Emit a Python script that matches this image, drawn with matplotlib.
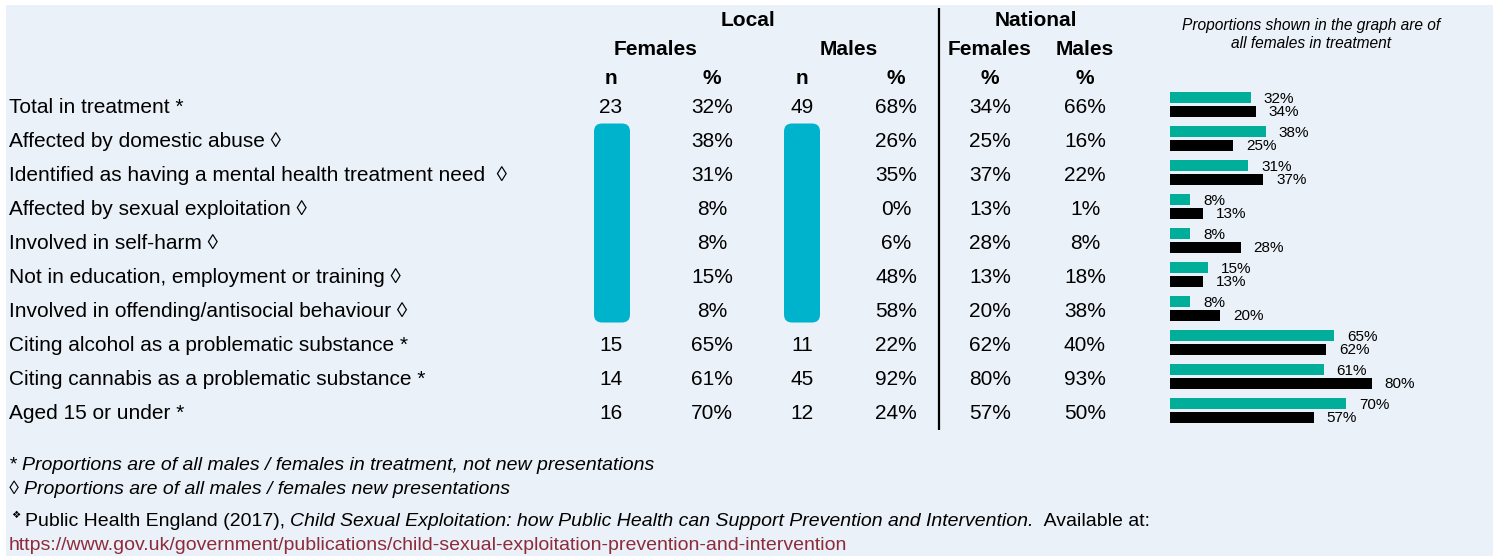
import matplotlib
matplotlib.use("Agg")
import matplotlib.pyplot as plt
from matplotlib.patches import Rectangle, FancyBboxPatch
import numpy as np

# ---------------- data ----------------
row_labels = [
    "Total in treatment *",
    "Affected by domestic abuse \u25ca",
    "Identified as having a mental health treatment need  \u25ca",
    "Affected by sexual exploitation \u25ca",
    "Involved in self-harm \u25ca",
    "Not in education, employment or training \u25ca",
    "Involved in offending/antisocial behaviour \u25ca",
    "Citing alcohol as a problematic substance *",
    "Citing cannabis as a problematic substance *",
    "Aged 15 or under *",
]
local_f_n = [23, None, None, None, None, None, None, 15, 14, 16]
local_f_pct = [32, 38, 31, 8, 8, 15, 8, 65, 61, 70]
local_m_n = [49, None, None, None, None, None, None, 11, 45, 12]
local_m_pct = [68, 26, 35, 0, 6, 48, 58, 22, 92, 24]
nat_f_pct = [34, 25, 37, 13, 28, 13, 20, 62, 80, 57]
nat_m_pct = [66, 16, 22, 1, 8, 18, 38, 40, 93, 50]
redacted_rows = [1, 2, 3, 4, 5, 6]

chart_title = "Proportions shown in the graph are of\nall females in treatment"
footnotes = [
    "* Proportions are of all males / females in treatment, not new presentations",
    "\u25ca Proportions are of all males / females new presentations",
]
ref_prefix = "Public Health England (2017), "
ref_title = "Child Sexual Exploitation: how Public Health can Support Prevention and Intervention."
ref_suffix = "  Available at:"
ref_url = "https://www.gov.uk/government/publications/child-sexual-exploitation-prevention-and-intervention"

# ---------------- style ----------------
W, H = 1497, 558
BG = "#EAF1F8"
TEAL = "#00AE9A"
SCRIBBLE = "#00B3CD"
URL_COLOR = "#8E2B3A"
FONT = ["Liberation Sans", "DejaVu Sans"]
plt.rcParams["font.family"] = FONT

fig = plt.figure(figsize=(W / 100, H / 100), dpi=100)
fig.patch.set_facecolor("white")
ax = fig.add_axes([0, 0, 1, 1])
ax.set_xlim(0, W)
ax.set_ylim(H, 0)
ax.axis("off")
ax.add_patch(Rectangle((6, 5), 1487, 551, facecolor=BG, edgecolor="none", zorder=0))

# layout
row0, dy = 107.5, 34.0
row_y = [row0 + dy * i for i in range(len(row_labels))]
x_label = 9
col_f_n, col_f_p, col_m_n, col_m_p = 611, 712, 802, 896
col_nf, col_nm = 990, 1085
FS = 15

# headers
bold = dict(fontsize=FS, fontweight="bold", ha="center", va="center", color="black")
ax.text(748, 20.5, "Local", **bold)
ax.text(1036, 20.5, "National", **bold)
ax.text(656, 49.5, "Females", **bold)
ax.text(849, 49.5, "Males", **bold)
ax.text(col_nf, 49.5, "Females", **bold)
ax.text(col_nm, 49.5, "Males", **bold)
for x, t in [(col_f_n, "n"), (col_f_p, "%"), (col_m_n, "n"), (col_m_p, "%"), (col_nf, "%"), (col_nm, "%")]:
    ax.text(x, 78.5, t, **bold)

ax.plot([939, 939], [8, 430], color="black", lw=1.6, solid_capstyle="butt")

norm = dict(fontsize=FS, ha="center", va="center", color="black")
for i, y in enumerate(row_y):
    ax.text(x_label, y, row_labels[i], fontsize=FS, ha="left", va="center")
    if local_f_n[i] is not None:
        ax.text(col_f_n, y, str(local_f_n[i]), **norm)
    if local_m_n[i] is not None:
        ax.text(col_m_n, y, str(local_m_n[i]), **norm)
    ax.text(col_f_p, y, f"{local_f_pct[i]}%", **norm)
    ax.text(col_m_p, y, f"{local_m_pct[i]}%", **norm)
    ax.text(col_nf, y, f"{nat_f_pct[i]}%", **norm)
    ax.text(col_nm, y, f"{nat_m_pct[i]}%", **norm)

# redaction scribbles over n columns
top = row_y[redacted_rows[0]] - 18
bot = row_y[redacted_rows[-1]] + 11
for cx in (col_f_n + 1, col_m_n):
    ax.add_patch(FancyBboxPatch((cx - 12, top + 6), 24, bot - top - 12,
                                boxstyle="round,pad=6,rounding_size=8",
                                facecolor=SCRIBBLE, edgecolor="none", zorder=3))

# chart title
ax.text(1311, 34.5, chart_title, fontsize=11.2, style="italic", ha="center", va="center",
        linespacing=1.25)

# footnotes
FN = 14
ax.text(x_label, 465, footnotes[0], fontsize=FN, style="italic", ha="left", va="center")
ax.text(x_label, 489, footnotes[1], fontsize=FN, style="italic", ha="left", va="center")
ax.text(x_label + 2, 515, "\u2756", fontsize=7.5, ha="left", va="center", family=["DejaVu Sans"])
t1 = ax.text(x_label + 16, 521, ref_prefix, fontsize=FN, ha="left", va="center")
fig.canvas.draw()
r = fig.canvas.get_renderer()
bb = t1.get_window_extent(r)
t2 = ax.text(bb.x1, 521, ref_title, fontsize=FN, style="italic", ha="left", va="center")
bb2 = t2.get_window_extent(r)
ax.text(bb2.x1, 521, ref_suffix, fontsize=FN, ha="left", va="center")
ax.text(x_label, 545, ref_url, fontsize=FN, ha="left", va="center", color=URL_COLOR)

# ---------------- bar chart ----------------
bx0, bx1 = 1170, 1422
by_top = row0 - 3 - dy / 2
by_bot = by_top + dy * len(row_labels)
bax = fig.add_axes([bx0 / W, 1 - by_bot / H, (bx1 - bx0) / W, (by_bot - by_top) / H])
bax.set_xlim(0, 100)
bax.set_ylim(len(row_labels) - 0.5, -0.5)
bax.axis("off")
bax.patch.set_alpha(0)
idx = np.arange(len(row_labels))
bh = 0.33
off = 0.205
bax.barh(idx - off, local_f_pct, height=bh, color=TEAL, edgecolor="none")
bax.barh(idx + off, nat_f_pct, height=bh, color="black", edgecolor="none")
for i in idx:
    bax.annotate(f"{local_f_pct[i]}%", (local_f_pct[i], i - off), xytext=(13, -1.5),
                 textcoords="offset pixels", ha="left", va="center", fontsize=11)
    bax.annotate(f"{nat_f_pct[i]}%", (nat_f_pct[i], i + off), xytext=(13, -0.5),
                 textcoords="offset pixels", ha="left", va="center", fontsize=11)

fig.savefig("out.png", dpi=100, facecolor="white")
